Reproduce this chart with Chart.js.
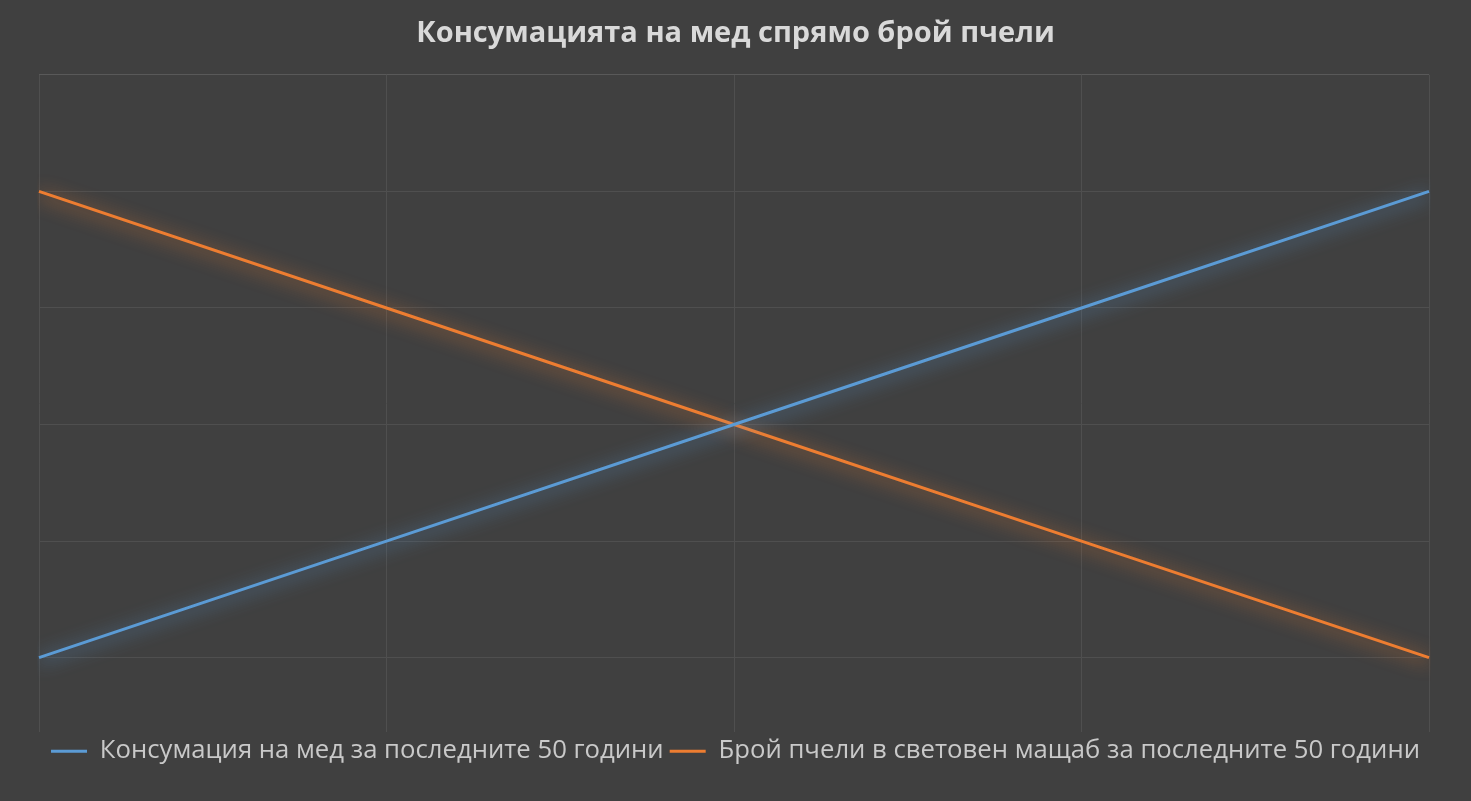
<!DOCTYPE html>
<html>
<head>
<meta charset="utf-8">
<script src="https://cdn.jsdelivr.net/npm/chart.js@4.4.1/dist/chart.umd.min.js"></script>
<style>
  html, body { margin: 0; padding: 0; background: #404040; }
  #wrap { width: 1471px; height: 801px; }
</style>
</head>
<body>
<div id="wrap"><canvas id="c"></canvas></div>
<script>
const titleText = 'Консумацията на мед спрямо брой пчели';
const categories = ['1', '2', '3', '4', '5'];
const honeyLabel = 'Консумация на мед за последните 50 години';
const honeyValues = [1, 2, 3, 4, 5];
const beesLabel = 'Брой пчели в световен мащаб за последните 50 години';
const beesValues = [5, 4, 3, 2, 1];
const yTicks = [1, 2, 3, 4, 5, 6];

const glow = {
  id: 'glow',
  beforeDatasetDraw(chart, args) {
    const ctx = chart.ctx;
    ctx.save();
    ctx.shadowColor = args.meta.dataset.options.borderColor;
    ctx.shadowBlur = 18;
    ctx.shadowOffsetY = 3;
  },
  afterDatasetDraw(chart) {
    chart.ctx.restore();
  }
};

new Chart(document.getElementById('c'), {
  type: 'line',
  data: {
    labels: categories,
    datasets: [
      { label: honeyLabel, data: honeyValues, borderColor: '#5b9bd5', backgroundColor: '#5b9bd5', borderWidth: 3, pointRadius: 0, tension: 0 },
      { label: beesLabel, data: beesValues, borderColor: '#ed7d31', backgroundColor: '#ed7d31', borderWidth: 3, pointRadius: 0, tension: 0 }
    ]
  },
  options: {
    responsive: true,
    maintainAspectRatio: false,
    animation: false,
    layout: { padding: { left: 0, right: 0, top: 0, bottom: 27 } },
    plugins: {
      title: {
        display: true, text: titleText, color: '#d9d9d9',
        font: { family: 'Open Sans', size: 29, weight: 'bold' },
        padding: { top: 16, bottom: 24 }
      },
      legend: {
        position: 'bottom',
        labels: {
          color: '#c9c9c9',
          font: { family: 'Open Sans', size: 25.7 },
          boxWidth: 36, boxHeight: 3, padding: 6,
          generateLabels(chart) {
            return chart.data.datasets.map((d, i) => ({
              text: d.label, fillStyle: d.borderColor, strokeStyle: d.borderColor,
              lineWidth: 0, datasetIndex: i, fontColor: '#c9c9c9'
            }));
          }
        }
      },
      tooltip: { enabled: false }
    },
    scales: {
      x: {
        offset: false,
        grid: { color: '#4f4f4f', drawTicks: false },
        border: { display: false },
        ticks: { display: false }
      },
      y: {
        min: 0.36, max: 6,
        afterBuildTicks(axis) { axis.ticks = yTicks.map(v => ({ value: v })); },
        afterFit(axis) { axis.width = 39; },
        grid: { color: (c) => c.tick && c.tick.value === 6 ? '#595959' : '#4f4f4f', drawTicks: false },
        border: { display: false },
        ticks: { display: false }
      },
      yRight: {
        position: 'right',
        min: 0.36, max: 6,
        afterFit(axis) { axis.width = 42; },
        grid: { display: false, drawTicks: false },
        border: { display: false },
        ticks: { display: false }
      }
    }
  },
  plugins: [glow]
});
</script>
</body>
</html>
